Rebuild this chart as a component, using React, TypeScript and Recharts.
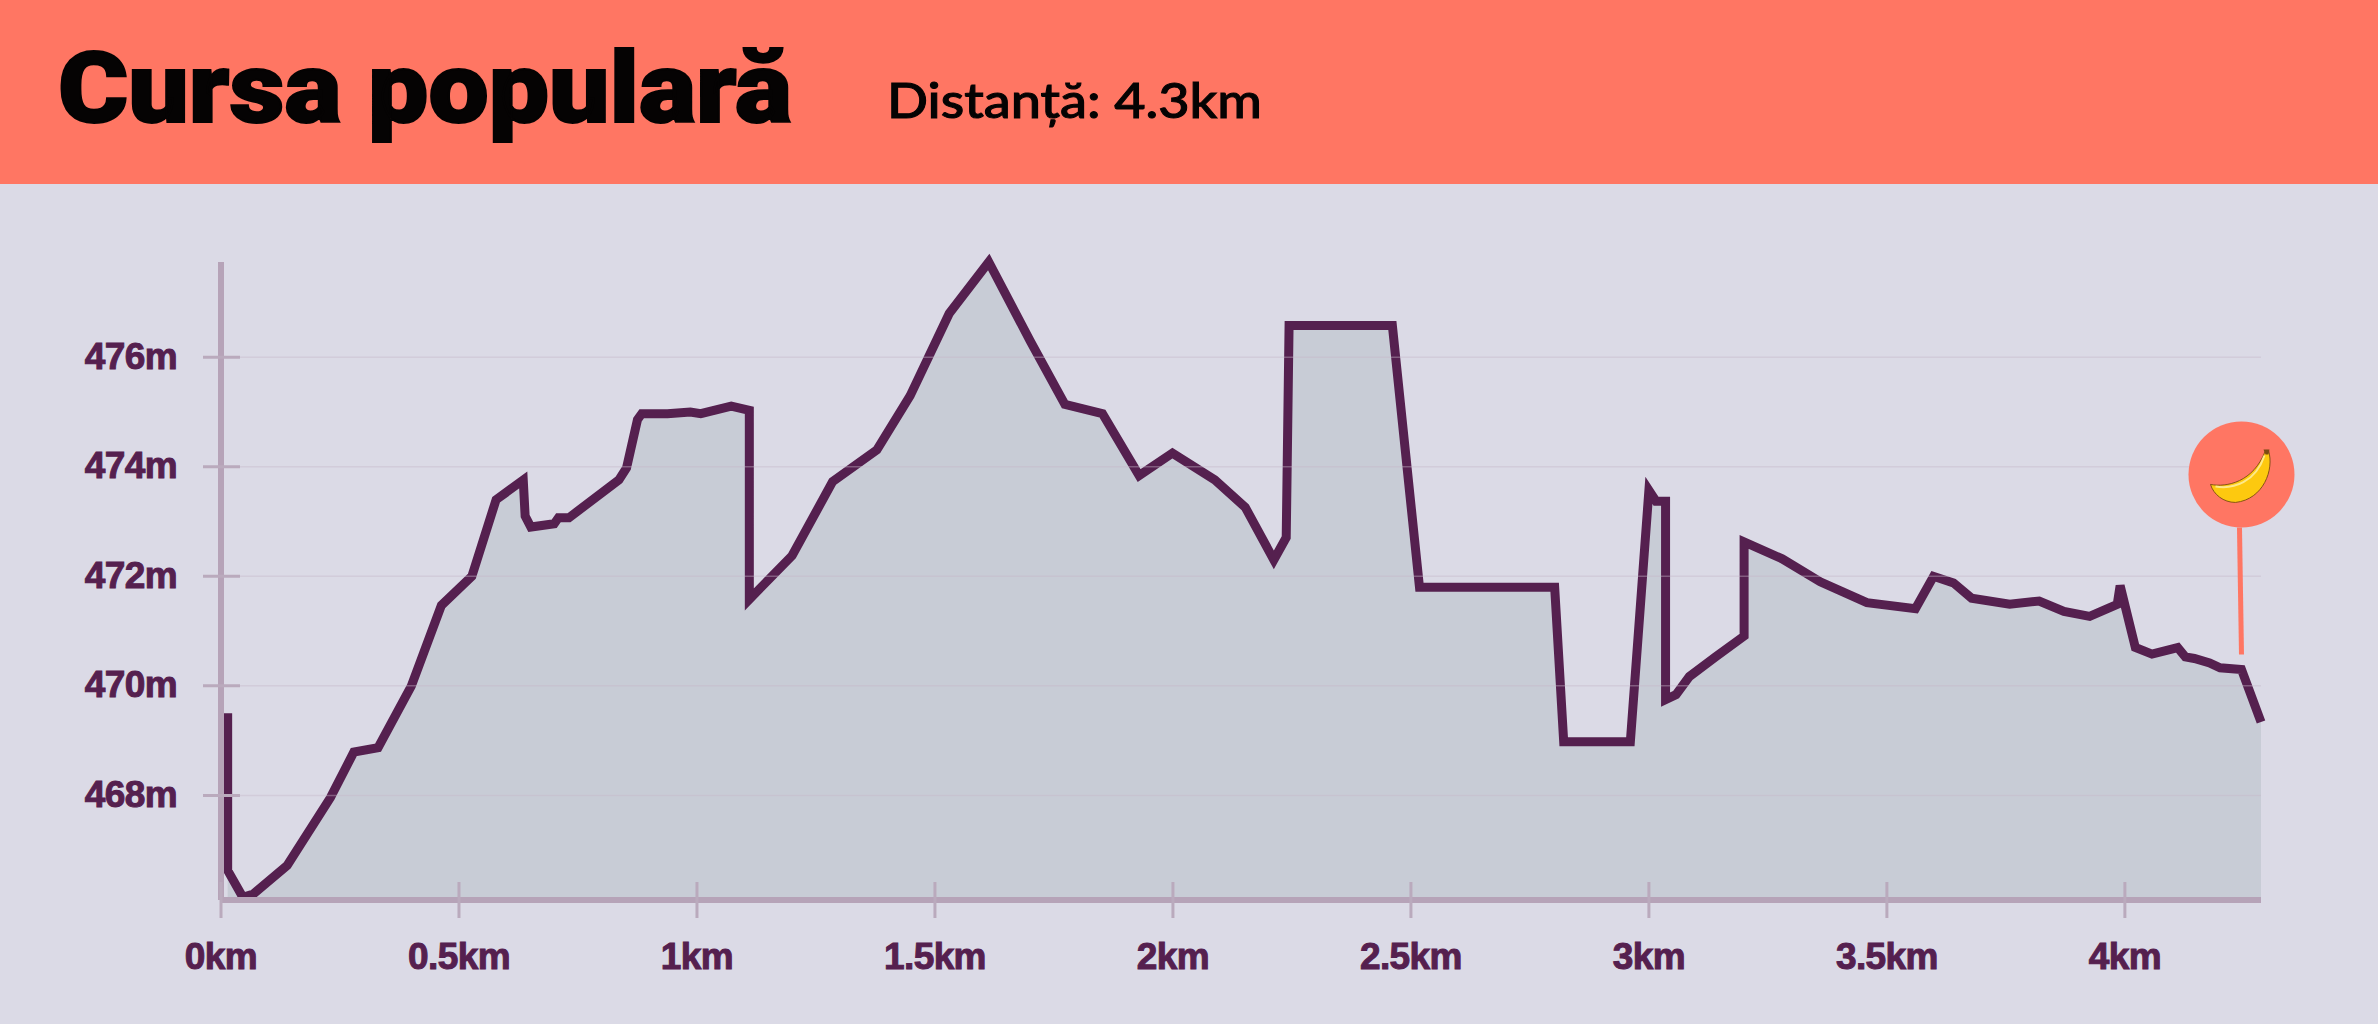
import { Area, AreaChart, CartesianGrid, ReferenceDot, XAxis, YAxis } from 'recharts';

// ---------------------------------------------------------------------------
// Data
// ---------------------------------------------------------------------------

const DISTANCE_KM = [
  0.014, 0.014, 0.046, 0.068, 0.139, 0.23, 0.279, 0.33, 0.4, 0.463, 0.527, 0.578, 0.635, 0.639, 0.651,
  0.7, 0.709, 0.731, 0.836, 0.852, 0.875, 0.884, 0.938, 0.986, 1.008, 1.072, 1.11, 1.11, 1.2, 1.285,
  1.378, 1.448, 1.53, 1.613, 1.7, 1.773, 1.852, 1.929, 1.999, 2.088, 2.152, 2.212, 2.238, 2.244, 2.461,
  2.518, 2.802, 2.821, 2.961, 3.0, 3.015, 3.035, 3.035, 3.057, 3.085, 3.14, 3.2, 3.2, 3.28, 3.36,
  3.458, 3.56, 3.598, 3.64, 3.678, 3.758, 3.82, 3.872, 3.926, 3.984, 3.99, 4.022, 4.057, 4.111, 4.127,
  4.146, 4.178, 4.2, 4.245, 4.286,
];

const ELEVATION_M = [
  469.5, 466.63, 466.14, 466.2, 466.72, 467.96, 468.79, 468.87, 470.0, 471.47, 472.0, 473.4, 473.76, 473.1, 472.9,
  472.96, 473.07, 473.07, 473.76, 473.98, 474.86, 474.97, 474.97, 475.0, 474.97, 475.11, 475.03, 471.58, 472.38, 473.73,
  474.31, 475.3, 476.8, 477.74, 476.3, 475.14, 474.97, 473.84, 474.25, 473.76, 473.26, 472.3, 472.71, 476.58, 476.58,
  471.8, 471.8, 468.98, 468.98, 473.57, 473.37, 473.37, 469.75, 469.84, 470.17, 470.53, 470.91, 472.63, 472.32, 471.9,
  471.52, 471.41, 472.0, 471.88, 471.6, 471.49, 471.55, 471.36, 471.27, 471.49, 471.83, 470.7, 470.58, 470.7, 470.53,
  470.5, 470.42, 470.33, 470.3, 469.34,
];

const X_TICKS = [0, 0.5, 1, 1.5, 2, 2.5, 3, 3.5, 4];
const Y_TICKS = [468, 470, 472, 474, 476];
const BANANA_POINT = { km: 4.245, m: 470.3 };

const chartData = DISTANCE_KM.map((km, i) => ({ km, m: ELEVATION_M[i] }));

// ---------------------------------------------------------------------------
// Colors
// ---------------------------------------------------------------------------

const CORAL = '#ff7663';
const PAGE_BG = '#dbdae6';
const LINE = '#55204f';
const AXIS = '#b6a3b8';
const TICK = '#baaabd';

const labelStyle = {
  fontFamily: '"Liberation Sans", Arial, sans-serif',
  fontWeight: 700,
  fontSize: 37,
  letterSpacing: -0.6,
  fill: LINE,
  stroke: LINE,
  strokeWidth: 1,
};

// ---------------------------------------------------------------------------
// Ticks cross the axis, so they are drawn along with the label
// ---------------------------------------------------------------------------

function XTick({ x, y, payload }: any) {
  return (
    <g>
      <line x1={x} x2={x} y1={y - 75} y2={y - 39} stroke={TICK} strokeWidth={3} />
      <text x={x} y={y - 1} textAnchor="middle" dominantBaseline="central" style={labelStyle}>
        {payload.value}km
      </text>
    </g>
  );
}

function YTick({ x, y, payload }: any) {
  return (
    <g>
      <line x1={x + 26} x2={x + 63} y1={y} y2={y} stroke={TICK} strokeWidth={3} />
      <text x={x} y={y - 1} textAnchor="end" dominantBaseline="central" style={labelStyle}>
        {payload.value}m
      </text>
    </g>
  );
}

// ---------------------------------------------------------------------------
// Banana pin
// ---------------------------------------------------------------------------

function BananaPin({ cx, cy }: any) {
  return (
    <g transform={`translate(${cx},${cy})`}>
      <line x1={-2} y1={-142} x2={0} y2={-15} stroke={CORAL} strokeWidth={5} />
      <circle cx={0} cy={-195} r={53} fill={CORAL} />
      <g transform="translate(0,-195)">
        <path
          d="M-31 10 C-15 13 12 8 24 -24 L27 -24 C33 -5 22 25 -6 28 C-18 28 -28 20 -31 10 Z"
          fill="#fdc90f"
          stroke="#7b4a12"
          strokeWidth={0.9}
        />
        <path d="M-26 12 C-8 15 14 8 23 -19" fill="none" stroke="#fde98a" strokeWidth={2} />
        <path d="M22 -25 L28 -25 L27 -20 L24 -20 Z" fill="#7b4a12" />
      </g>
    </g>
  );
}

// ---------------------------------------------------------------------------
// Component
// ---------------------------------------------------------------------------

export default function App() {
  return (
    <div
      style={{
        position: 'absolute',
        left: 0,
        top: 0,
        width: 2378,
        height: 1024,
        background: PAGE_BG,
        overflow: 'hidden',
      }}
    >
      {/* Header */}
      <svg width={2378} height={184} style={{ display: 'block', background: CORAL }}>
        <text
          x={58}
          y={122}
          textLength={734}
          lengthAdjust="spacingAndGlyphs"
          style={{ fontFamily: 'Roboto, sans-serif', fontWeight: 900, fontSize: 98, fill: '#050303', stroke: '#050303', strokeWidth: 2 }}
        >
          Cursa populară
        </text>
        <text
          x={887}
          y={118}
          textLength={375}
          lengthAdjust="spacingAndGlyphs"
          style={{ fontFamily: 'Lato, sans-serif', fontWeight: 500, fontSize: 48, fill: '#050303', stroke: '#050303', strokeWidth: 1 }}
        >
          Distanță: 4.3km
        </text>
      </svg>

      {/* Chart */}
      <AreaChart
        width={2378}
        height={840}
        data={chartData}
        margin={{ top: 78, right: 117, bottom: 0, left: 0 }}
      >
        <XAxis
          type="number"
          dataKey="km"
          domain={[0, 4.286]}
          ticks={X_TICKS}
          interval={0}
          height={124}
          tick={<XTick />}
          tickLine={false}
          tickSize={0}
          tickMargin={57}
          axisLine={{ stroke: AXIS, strokeWidth: 6 }}
        />
        <YAxis
          type="number"
          domain={[466.09, 477.71]}
          ticks={Y_TICKS}
          interval={0}
          width={221}
          tick={<YTick />}
          tickLine={false}
          tickSize={0}
          tickMargin={44}
          axisLine={{ stroke: AXIS, strokeWidth: 6 }}
        />
        <Area
          type="linear"
          dataKey="m"
          stroke={LINE}
          strokeWidth={9}
          strokeLinejoin="miter"
          strokeLinecap="butt"
          fill="#c8ccd6"
          fillOpacity={1}
          dot={false}
          activeDot={false}
          isAnimationActive={false}
        />
        <CartesianGrid
          vertical={false}
          syncWithTicks
          stroke="#c6b6c9"
          strokeOpacity={0.4}
          strokeWidth={1.5}
          zIndex={150}
        />
        <ReferenceDot x={BANANA_POINT.km} y={BANANA_POINT.m} shape={<BananaPin />} ifOverflow="visible" />
      </AreaChart>
    </div>
  );
}
